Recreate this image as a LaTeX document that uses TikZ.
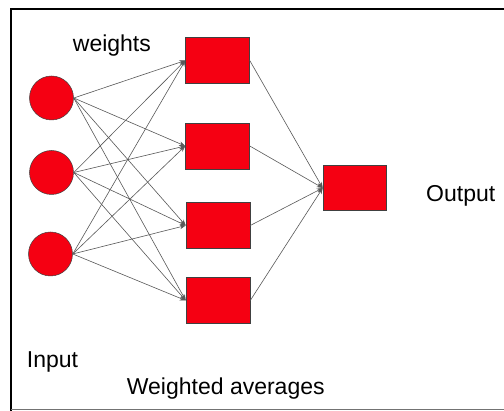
\documentclass[tikz,border=0pt]{standalone}
\usepackage{fontspec}
\setmainfont{Liberation Sans}
\usetikzlibrary{arrows.meta}
\definecolor{unitred}{RGB}{245,0,18}
\tikzset{
  neuron/.style={circle, fill=unitred, draw=black!75, line width=0.5pt,
    minimum size=44pt, inner sep=0pt},
  unit/.style={rectangle, fill=unitred, draw=black!75, line width=0.5pt,
    minimum width=64pt, minimum height=46pt, inner sep=0pt},
  link/.style={draw=black!65, line width=0.6pt,
    -{Stealth[length=6pt,width=4.5pt]}},
  caption/.style={font=\fontsize{23}{27}\selectfont, inner sep=0pt}
}
\begin{document}
\begin{tikzpicture}[x=1pt, y=-1pt]
  \useasboundingbox (0,0) rectangle (504,411);
  \fill[white] (0,0) rectangle (504,411);
  % frame
  \draw[black, line width=2.5pt] (11,412) -- (11,9) -- (506,9);
  \draw[black!55, line width=1pt] (11,409.3) -- (506,409.3);

  % input layer
  \node[neuron] (c1) at (51.5,98) {};
  \node[neuron] (c2) at (51.5,172.5) {};
  \node[neuron] (c3) at (50.5,254) {};

  % hidden layer
  \node[unit] (r1) at (217.5,60.5) {};
  \node[unit] (r2) at (217.5,146) {};
  \node[unit] (r3) at (218,225.5) {};
  \node[unit] (r4) at (218,300.5) {};

  % output
  \node[unit, minimum width=63pt, minimum height=45pt] (out) at (354.5,188) {};

  % weighted connections
  \foreach \c in {c1,c2,c3}
    \foreach \r in {r1,r2,r3,r4}
      \draw[link] (\c.east) -- (\r.west);
  \foreach \r in {r1,r2,r3,r4}
    \draw[link] (\r.east) -- (out.west);

  % labels
  \node[caption, anchor=base west] (lw) at (72.7,51.7) {weights};
  \node[caption, anchor=base west] (lo) at (426,201.7) {Output};
  \node[caption, anchor=base west] (li) at (26.7,367.3) {Input};
  \node[caption, anchor=base west] (la) at (126.7,394.3) {Weighted averages};
\end{tikzpicture}
\end{document}
